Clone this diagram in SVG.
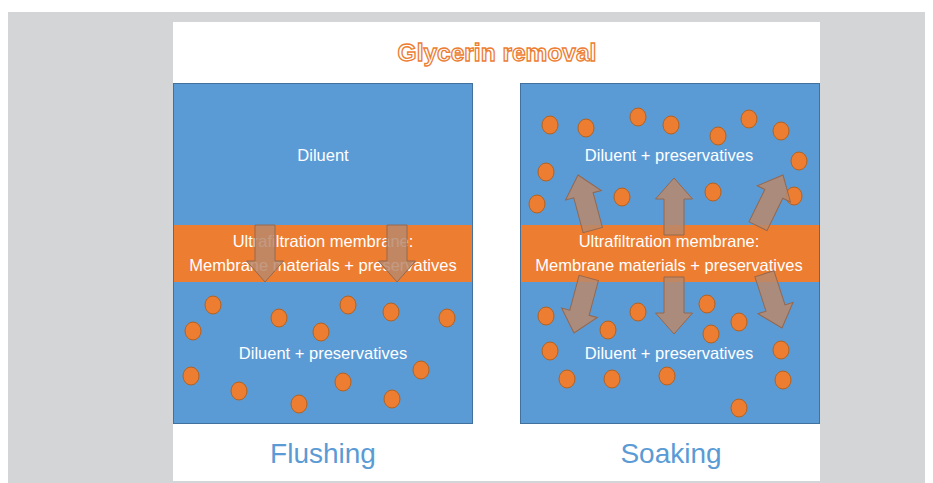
<svg xmlns="http://www.w3.org/2000/svg" width="933" height="483" viewBox="0 0 933 483">
<style>
.panel{fill:#5b9bd5;stroke:#41719c;stroke-width:1}
.mem{fill:#ed7d31}
.t{font-family:"Liberation Sans",Arial,sans-serif;font-size:16.5px;fill:#ffffff;text-anchor:middle}
.dot{fill:#ed7d31;stroke:#b4621f;stroke-width:1}
.lbl{font-family:"Liberation Sans",Arial,sans-serif;font-size:28px;fill:#5b9bd5;text-anchor:middle}
.arw{fill:#b8886c;fill-opacity:0.85;stroke:#94684f;stroke-width:1}
</style>
<defs>
<path id="arrow" d="M0,0 L18.5,21 L10,21 L10,57 L-10,57 L-10,21 L-18.5,21 Z"/>
</defs>
<rect x="0" y="0" width="933" height="483" fill="#ffffff"/>
<rect x="8" y="12" width="917" height="471" fill="#d4d5d7"/>
<rect x="173" y="22" width="647" height="459" fill="#ffffff"/>
<text x="497" y="61" font-family="'Liberation Sans',Arial,sans-serif" font-size="24.5" font-weight="bold" fill="#ffffff" stroke="#ed7d31" stroke-width="1.3" text-anchor="middle">Glycerin removal</text>

<g id="flushing">
<rect class="panel" x="173.5" y="83.5" width="299" height="340"/>
<rect class="mem" x="174" y="225" width="298" height="57"/>
<text class="t" x="323" y="161">Diluent</text>
<text class="t" x="323" y="247">Ultrafiltration membrane:</text>
<text class="t" x="323" y="271">Membrane materials + preservatives</text>
<text class="t" x="323" y="359">Diluent + preservatives</text>
<g>
<ellipse class="dot" cx="213" cy="305" rx="8" ry="9"/>
<ellipse class="dot" cx="193" cy="331" rx="8" ry="9"/>
<ellipse class="dot" cx="279" cy="318" rx="8" ry="9"/>
<ellipse class="dot" cx="321" cy="332" rx="8" ry="9"/>
<ellipse class="dot" cx="348" cy="305" rx="8" ry="9"/>
<ellipse class="dot" cx="391" cy="312" rx="8" ry="9"/>
<ellipse class="dot" cx="447" cy="318" rx="8" ry="9"/>
<ellipse class="dot" cx="191" cy="376" rx="8" ry="9"/>
<ellipse class="dot" cx="239" cy="391" rx="8" ry="9"/>
<ellipse class="dot" cx="299" cy="404" rx="8" ry="9"/>
<ellipse class="dot" cx="343" cy="382" rx="8" ry="9"/>
<ellipse class="dot" cx="421" cy="370" rx="8" ry="9"/>
<ellipse class="dot" cx="392" cy="399" rx="8" ry="9"/>
</g>
<text class="lbl" x="323" y="463">Flushing</text>
</g>

<g id="soaking">
<rect class="panel" x="520.5" y="83.5" width="299" height="340"/>
<rect class="mem" x="521" y="225" width="298" height="57"/>
<text class="t" x="669" y="161">Diluent + preservatives</text>
<text class="t" x="669" y="247">Ultrafiltration membrane:</text>
<text class="t" x="669" y="271">Membrane materials + preservatives</text>
<text class="t" x="669" y="359">Diluent + preservatives</text>
<g>
<ellipse class="dot" cx="550" cy="125" rx="8" ry="9"/>
<ellipse class="dot" cx="586" cy="128" rx="8" ry="9"/>
<ellipse class="dot" cx="638" cy="117" rx="8" ry="9"/>
<ellipse class="dot" cx="671" cy="125" rx="8" ry="9"/>
<ellipse class="dot" cx="718" cy="136" rx="8" ry="9"/>
<ellipse class="dot" cx="749" cy="119" rx="8" ry="9"/>
<ellipse class="dot" cx="781" cy="131" rx="8" ry="9"/>
<ellipse class="dot" cx="799" cy="161" rx="8" ry="9"/>
<ellipse class="dot" cx="546" cy="172" rx="8" ry="9"/>
<ellipse class="dot" cx="537" cy="204" rx="8" ry="9"/>
<ellipse class="dot" cx="622" cy="197" rx="8" ry="9"/>
<ellipse class="dot" cx="713" cy="192" rx="8" ry="9"/>
<ellipse class="dot" cx="794" cy="196" rx="8" ry="9"/>
<ellipse class="dot" cx="546" cy="316" rx="8" ry="9"/>
<ellipse class="dot" cx="608" cy="330" rx="8" ry="9"/>
<ellipse class="dot" cx="638" cy="312" rx="8" ry="9"/>
<ellipse class="dot" cx="707" cy="304" rx="8" ry="9"/>
<ellipse class="dot" cx="711" cy="334" rx="8" ry="9"/>
<ellipse class="dot" cx="739" cy="322" rx="8" ry="9"/>
<ellipse class="dot" cx="550" cy="351" rx="8" ry="9"/>
<ellipse class="dot" cx="781" cy="350" rx="8" ry="9"/>
<ellipse class="dot" cx="567" cy="379" rx="8" ry="9"/>
<ellipse class="dot" cx="612" cy="379" rx="8" ry="9"/>
<ellipse class="dot" cx="667" cy="376" rx="8" ry="9"/>
<ellipse class="dot" cx="783" cy="380" rx="8" ry="9"/>
<ellipse class="dot" cx="739" cy="408" rx="8" ry="9"/>
</g>
<text class="lbl" x="671" y="463">Soaking</text>
</g>

<g id="connectors" class="arw">
<use href="#arrow" transform="translate(265,282) rotate(180)"/>
<use href="#arrow" transform="translate(397,282) rotate(180)"/>
<use href="#arrow" transform="translate(674,178)"/>
<use href="#arrow" transform="translate(674,334) rotate(180)"/>
<use href="#arrow" transform="translate(578,175) rotate(-15)"/>
<use href="#arrow" transform="translate(783,175) rotate(26)"/>
<use href="#arrow" transform="translate(574,333) rotate(195)"/>
<use href="#arrow" transform="translate(782,328) rotate(162)"/>
</g>
</svg>
